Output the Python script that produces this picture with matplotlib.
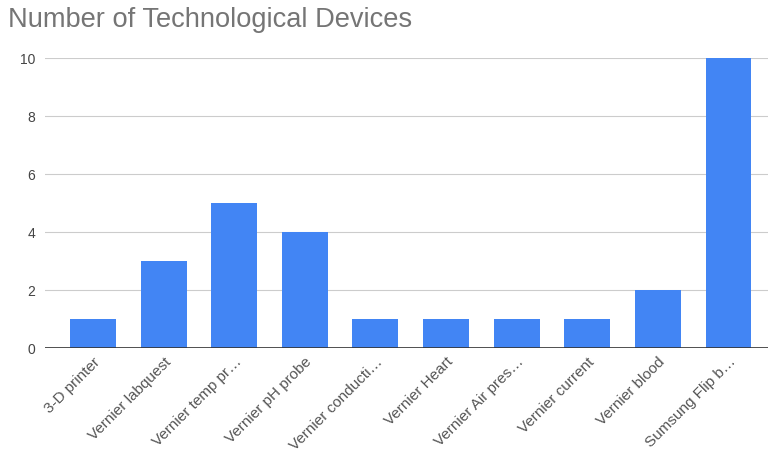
import matplotlib
matplotlib.use("Agg")
import matplotlib.pyplot as plt

categories = ["3-D printer", "Vernier labquest", "Vernier temp pr…", "Vernier pH probe",
              "Vernier conducti…", "Vernier Heart", "Vernier Air pres…", "Vernier current",
              "Vernier blood", "Sumsung Flip b…"]
values = [1, 3, 5, 4, 1, 1, 1, 1, 2, 10]
yticks = [0, 2, 4, 6, 8, 10]

plt.rcParams['font.family'] = ['Liberation Sans', 'DejaVu Sans']
fig = plt.figure(figsize=(7.71, 4.58), dpi=100)
ax = fig.add_axes([45/771, 1-348/458, (768-45)/771, (348-58)/458])

x = list(range(len(categories)))
ax.bar(x, values, width=0.65, color='#4285F4', zorder=3)
ax.set_xlim(-0.68, 9.56)
ax.set_ylim(0, 10)
ax.set_yticks(yticks)
ax.set_yticklabels([str(v) for v in yticks], fontsize=10, color='#444444')
ax.grid(axis='y', color='#cccccc', linewidth=0.8, zorder=0)
ax.axhline(0, color='#333333', linewidth=1.2, zorder=4)
for s in ax.spines.values():
    s.set_visible(False)
ax.tick_params(axis='both', length=0)
ax.tick_params(axis='y', pad=7)
ax.tick_params(axis='x', pad=5)
ax.set_xticks(x)
ax.set_xticklabels(categories, rotation=45, ha='right', rotation_mode='anchor',
                   fontsize=11, color='#555555')
fig.text(8/771, 1-20/458, "Number of Technological Devices", fontsize=19.6,
         color='#757575', va='center', ha='left')
fig.savefig("out.png", dpi=100)
